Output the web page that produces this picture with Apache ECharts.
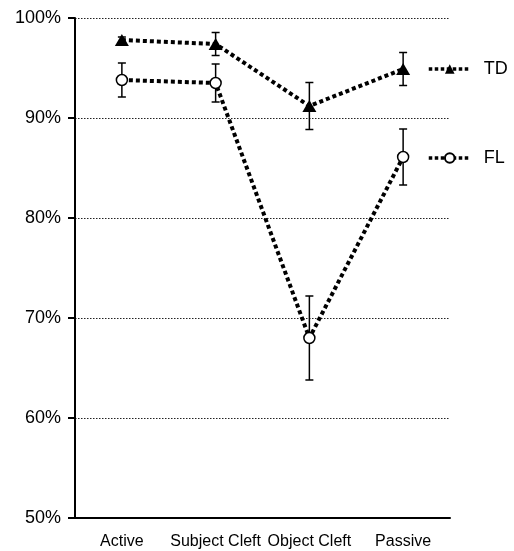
<!DOCTYPE html>
<html>
<head>
<meta charset="utf-8">
<script src="https://cdn.jsdelivr.net/npm/echarts@6/dist/echarts.min.js"></script>
<style>
  html, body { margin: 0; padding: 0; background: #fff; }
  #chart { width: 514px; height: 551px; }
</style>
</head>
<body>
<div id="chart"></div>
<script>
// Sentence types on the x axis
const categories = ['Active', 'Subject Cleft', 'Object Cleft', 'Passive'];
// Mean accuracy (%) per group
const tdMeans = [97.8, 97.4, 91.2, 94.9];
const flMeans = [93.8, 93.5, 68.0, 86.1];
// Error bar half-widths (%)
const tdErrors = [0.3, 1.15, 2.35, 1.65];
const flErrors = [1.7, 1.9, 4.2, 2.8];
// Y axis range and step
const yMin = 50, yMax = 100, yStep = 10;

const FONT = '"Liberation Sans", Arial, Helvetica, sans-serif';

function errorData(means, errs) {
  return means.map((m, i) => [i, m - errs[i], m + errs[i]]);
}

function renderErrorBar(params, api) {
  const x = api.value(0);
  const top = api.coord([x, api.value(2)]);
  const bot = api.coord([x, api.value(1)]);
  const hw = 4;
  const style = { stroke: '#000', lineWidth: 1.5 };
  return {
    type: 'group',
    children: [
      { type: 'line', shape: { x1: top[0], y1: top[1], x2: bot[0], y2: bot[1] }, style },
      { type: 'line', shape: { x1: top[0] - hw, y1: top[1], x2: top[0] + hw, y2: top[1] }, style },
      { type: 'line', shape: { x1: bot[0] - hw, y1: bot[1], x2: bot[0] + hw, y2: bot[1] }, style }
    ]
  };
}

const dotted = { color: '#000', width: 4, type: [4, 3], cap: 'butt' };

function legendFor(name, top) {
  return {
    data: [name], left: 427, top: top, orient: 'vertical', padding: 0,
    itemWidth: 42, itemHeight: 12,
    lineStyle: { width: 3.5, type: [3.5, 2.5], color: '#000' },
    textStyle: { fontFamily: FONT, fontSize: 18, color: '#000', padding: [0, 0, 0, 8] }
  };
}

const chart = echarts.init(document.getElementById('chart'), null, { renderer: 'canvas' });
chart.setOption({
  animation: false,
  backgroundColor: '#fff',
  grid: { left: 75, right: 64, top: 18, bottom: 33, containLabel: false },
  legend: [legendFor('TD', 60), legendFor('FL', 149)],
  xAxis: {
    type: 'category',
    data: categories,
    boundaryGap: true,
    axisLine: { lineStyle: { color: '#000', width: 2 } },
    axisTick: { alignWithLabel: true, length: 6, lineStyle: { color: '#000', width: 2 } },
    axisLabel: { interval: 0, fontFamily: FONT, fontSize: 16, color: '#000', margin: 16 },
    splitLine: { show: false }
  },
  yAxis: {
    type: 'value',
    min: yMin, max: yMax, interval: yStep,
    axisLine: { show: true, lineStyle: { color: '#000', width: 2 } },
    axisTick: { show: true, length: 7, lineStyle: { color: '#000', width: 2 } },
    axisLabel: { fontFamily: FONT, fontSize: 18, color: '#000', margin: 14, formatter: '{value}%' },
    splitLine: { show: true, lineStyle: { color: '#222', width: 1, type: [1.5, 1.5] } }
  },
  series: [
    {
      name: 'TD err', type: 'custom', renderItem: renderErrorBar,
      data: errorData(tdMeans, tdErrors), z: 2, silent: true
    },
    {
      name: 'FL err', type: 'custom', renderItem: renderErrorBar,
      data: errorData(flMeans, flErrors), z: 2, silent: true
    },
    {
      name: 'TD', type: 'line', data: tdMeans, z: 3,
      symbol: 'triangle', symbolSize: [14, 12],
      itemStyle: { color: '#000', borderColor: '#000', borderWidth: 0 },
      lineStyle: dotted
    },
    {
      name: 'FL', type: 'line', data: flMeans, z: 3,
      symbol: 'circle', symbolSize: 11,
      itemStyle: { color: '#fff', borderColor: '#000', borderWidth: 1.5 },
      lineStyle: dotted
    }
  ]
});
</script>
</body>
</html>
